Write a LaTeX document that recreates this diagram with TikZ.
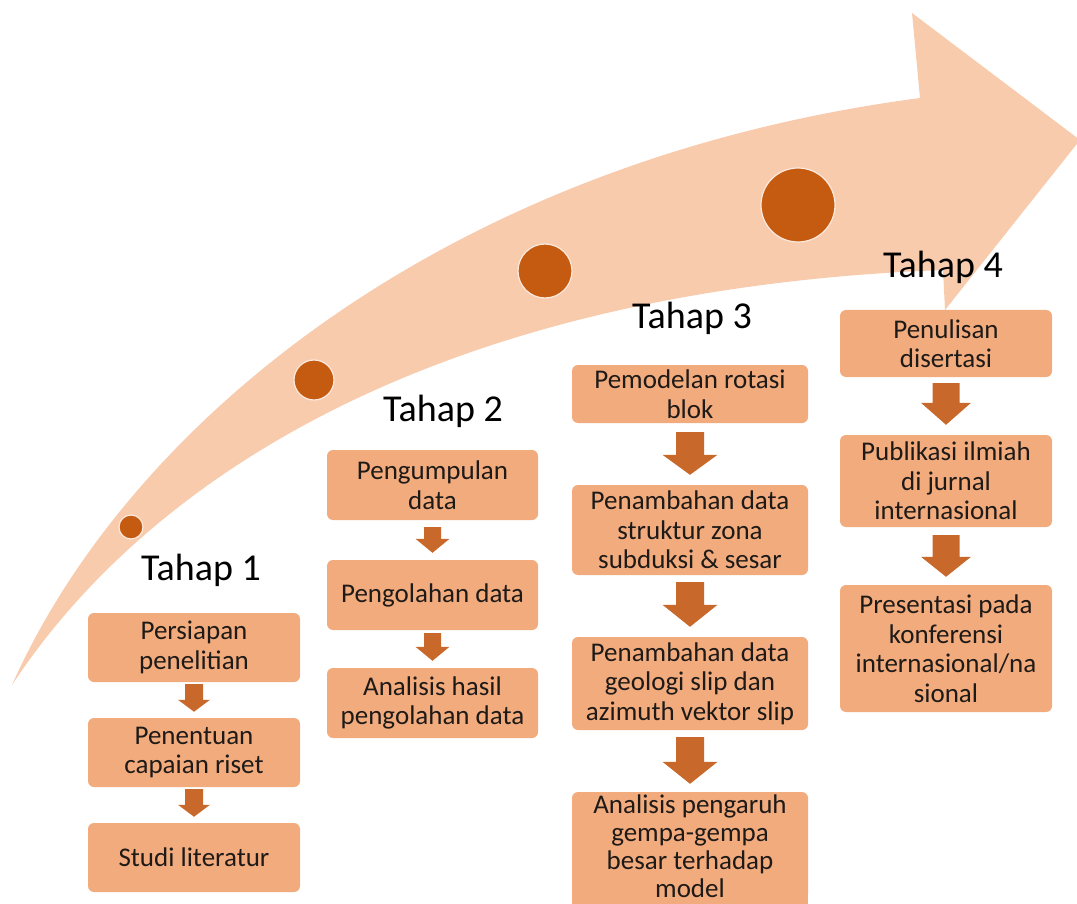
\documentclass[tikz,border=0pt]{standalone}
\usepackage{fontspec}
\setmainfont{Carlito}
\usetikzlibrary{calc}
\definecolor{peach}{HTML}{F8CBAD}
\definecolor{boxcol}{HTML}{F2AB7D}
\definecolor{dotcol}{HTML}{C55A11}
\definecolor{arrcol}{HTML}{C8682B}
\definecolor{txt}{HTML}{1E1A18}
\newcommand{\blockarr}[7]{%
  \fill[arrcol] let \p1=(#1.south), \p2=(#2.north) in
    (\x1-#3,\y1-#6) -- (\x1+#3,\y1-#6) -- (\x1+#3,\y2+#7+#5) -- (\x1+#4,\y2+#7+#5)
    -- (\x1,\y2+#7) -- (\x1-#4,\y2+#7+#5) -- (\x1-#3,\y2+#7+#5) -- cycle;}
\begin{document}
\begin{tikzpicture}[x=1pt,y=-1pt,
  stepbox/.style={fill=boxcol, rounded corners=6pt, inner sep=0pt, align=center,
    text=txt, font=\fontsize{27}{29.5}\selectfont},
  tahap/.style={anchor=base, inner sep=0pt, font=\fontsize{38}{40}\selectfont, text=black},
  dot/.style={circle, fill=dotcol, draw=peach!40!white, line width=1.2pt, inner sep=0pt},
]
\useasboundingbox (0,0) rectangle (1077,904);
% big curved arrow
\fill[peach] (12,685) .. controls (130,420) and (450,160) .. (920,98)
  -- (912,13) -- (1080,140) -- (945,310) -- (943,270)
  .. controls (420,290) and (140,490) .. (12,685) -- cycle;
% dots
\node[dot, minimum size=24pt] (d1) at (131,527) {};
\node[dot, minimum size=40pt] (d2) at (314,380) {};
\node[dot, minimum size=54pt] (d3) at (545,271) {};
\node[dot, minimum size=74pt] (d4) at (798,205) {};
% stage titles
\node[tahap] (t1) at (201,580) {Tahap 1};
\node[tahap] (t2) at (443,421) {Tahap 2};
\node[tahap] (t3) at (692,328) {Tahap 3};
\node[tahap] (t4) at (943,278) {Tahap 4};
% column 1
\node[stepbox, minimum width=212pt, minimum height=69pt] (a1) at (194,647.5) {Persiapan\\penelitian};
\node[stepbox, minimum width=212pt, minimum height=69pt] (a2) at (194,752.5) {Penentuan\\capaian riset};
\node[stepbox, minimum width=212pt, minimum height=69pt] (a3) at (194,857.5) {Studi literatur};
% column 2
\node[stepbox, minimum width=211pt, minimum height=70pt] (b1) at (432.5,485) {Pengumpulan\\data};
\node[stepbox, minimum width=211pt, minimum height=70pt] (b2) at (432.5,595) {Pengolahan data};
\node[stepbox, minimum width=211pt, minimum height=70pt] (b3) at (432.5,703) {Analisis hasil\\pengolahan data};
% column 3
\node[stepbox, minimum width=236pt, minimum height=58pt] (c1) at (690,394) {Pemodelan rotasi\\blok};
\node[stepbox, minimum width=236pt, minimum height=90pt] (c2) at (690,530) {Penambahan data\\struktur zona\\subduksi \& sesar};
\node[stepbox, minimum width=236pt, minimum height=93pt] (c3) at (690,683.5) {Penambahan data\\geologi slip dan\\azimuth vektor slip};
% last box of column 3 runs past the lower edge of the picture
\fill[boxcol] (572,840) rectangle (808,920);
\node[stepbox, minimum width=236pt, minimum height=108pt, font=\fontsize{27}{28}\selectfont] (c4) at (690,846) {Analisis pengaruh\\gempa-gempa\\besar terhadap\\model};
% column 4
\node[stepbox, minimum width=212pt, minimum height=67pt] (e1) at (946,343.5) {Penulisan\\disertasi};
\node[stepbox, minimum width=212pt, minimum height=92pt] (e2) at (946,481) {Publikasi ilmiah\\di jurnal\\internasional};
\node[stepbox, minimum width=212pt, minimum height=127pt] (e3) at (946,648.5) {Presentasi pada\\konferensi\\internasional/na\\sional};
% block arrows
\blockarr{a1}{a2}{9pt}{16pt}{12pt}{2pt}{6pt}
\blockarr{a2}{a3}{9pt}{16pt}{12pt}{2pt}{6pt}
\blockarr{b1}{b2}{8.5pt}{17pt}{14pt}{7pt}{7pt}
\blockarr{b2}{b3}{8.5pt}{17pt}{14pt}{3pt}{7pt}
\blockarr{c1}{c2}{14pt}{27.5pt}{20pt}{9pt}{10pt}
\blockarr{c2}{c3}{14pt}{27.5pt}{22pt}{7pt}{10pt}
\blockarr{c3}{c4}{14pt}{27.5pt}{22pt}{7pt}{8pt}
\blockarr{e1}{e2}{13.5pt}{25pt}{22pt}{6pt}{10pt}
\blockarr{e2}{e3}{13.5pt}{25pt}{20pt}{8pt}{8pt}
\end{tikzpicture}
\end{document}
